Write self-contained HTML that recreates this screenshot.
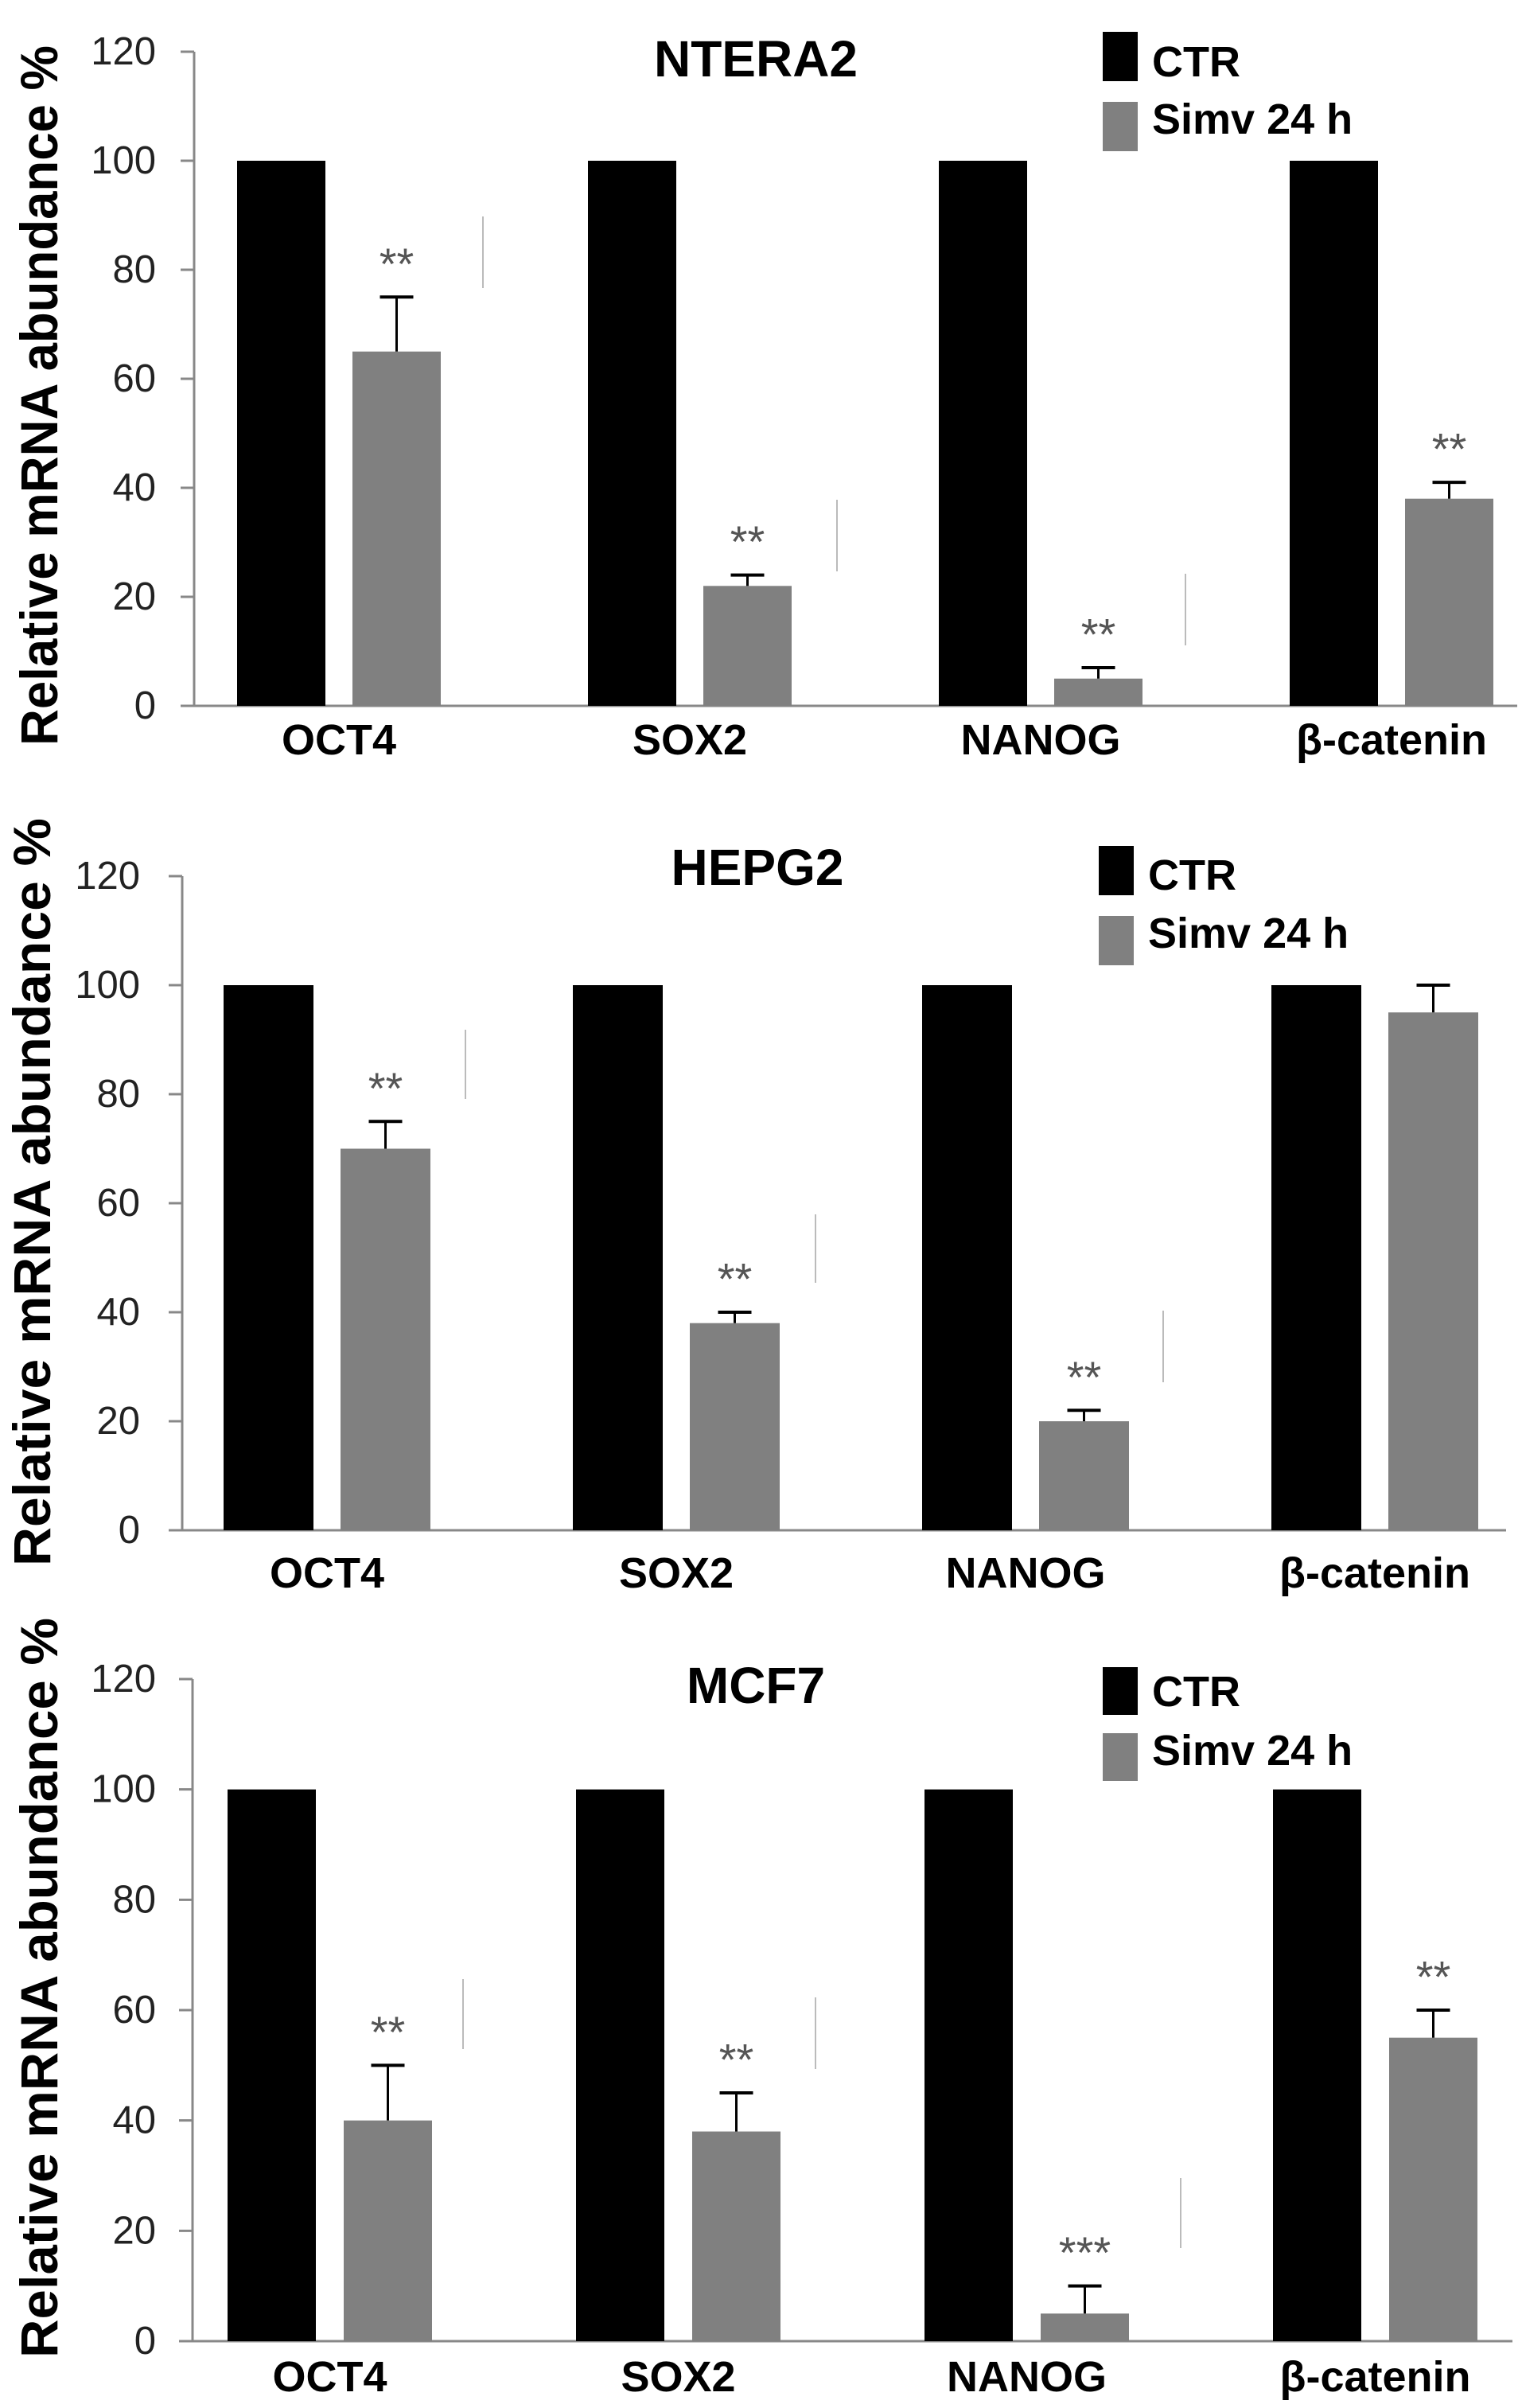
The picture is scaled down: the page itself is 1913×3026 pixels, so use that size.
<!DOCTYPE html>
<html><head><meta charset="utf-8">
<style>
html,body{margin:0;padding:0;background:#fff;}
svg{display:block;}
text{font-family:"Liberation Sans",Arial,sans-serif;}
</style></head>
<body>
<svg id="fig" width="1913" height="3026" viewBox="0 0 1913 3026" xmlns="http://www.w3.org/2000/svg"></svg>
<script>
const categories = ["OCT4", "SOX2", "NANOG", "β-catenin"];
const yTicks = [0, 20, 40, 60, 80, 100, 120];
const seriesNames = ["CTR", "Simv 24 h"];
const panelTitles = ["NTERA2", "HEPG2", "MCF7"];

const ntera2Ctr = [100, 100, 100, 100];
const ntera2Simv = [65, 22, 5, 38];
const ntera2Err = [10, 2, 2, 3];
const ntera2Stars = ["**", "**", "**", "**"];

const hepg2Ctr = [100, 100, 100, 100];
const hepg2Simv = [70, 38, 20, 95];
const hepg2Err = [5, 2, 2, 5];
const hepg2Stars = ["**", "**", "**", ""];

const mcf7Ctr = [100, 100, 100, 100];
const mcf7Simv = [40, 38, 5, 55];
const mcf7Err = [10, 7, 5, 5];
const mcf7Stars = ["**", "**", "***", "**"];

const svg = document.getElementById('fig');
const NS = "http://www.w3.org/2000/svg";
function mk(tag, attrs, parent){
  const e = document.createElementNS(NS, tag);
  for (const k in attrs) e.setAttribute(k, attrs[k]);
  (parent||svg).appendChild(e);
  return e;
}

const layouts = [
  {axX:244, y0:887, y120:65, x0:298, grp:441, bw:111, gap:34, axEnd:1907, tickR:196, yTitleX:49, yTitleC:497, yTitleL:880, titleX:950, titleY:74, legX:1386, legY1:40, legY2:128, legH:62, legT1:78, legT2:150, catY:930, lineX:[607,1052,1490], lineY:[[272,362],[628,718],[721,811]]},
  {axX:229, y0:1923, y120:1101, x0:281, grp:439, bw:113, gap:34, axEnd:1893, tickR:176, yTitleX:40, yTitleC:1498, yTitleL:940, titleX:952, titleY:1090, legX:1381, legY1:1063, legY2:1151, legH:62, legT1:1100, legT2:1173, catY:1977, lineX:[585,1025,1462], lineY:[[1294,1381],[1526,1612],[1647,1737]]},
  {axX:242, y0:2942, y120:2110, x0:286, grp:438, bw:111, gap:35, axEnd:1901, tickR:196, yTitleX:49, yTitleC:2498, yTitleL:930, titleX:950, titleY:2118, legX:1386, legY1:2095, legY2:2178, legH:60, legT1:2126, legT2:2200, catY:2987, lineX:[582,1025,1484], lineY:[[2487,2575],[2510,2600],[2737,2825]]}
];
const panelCtr = [ntera2Ctr, hepg2Ctr, mcf7Ctr];
const panelSimv = [ntera2Simv, hepg2Simv, mcf7Simv];
const panelErr = [ntera2Err, hepg2Err, mcf7Err];
const panelStars = [ntera2Stars, hepg2Stars, mcf7Stars];

layouts.forEach((L, p) => {
  const g = mk('g', {});
  
  
  const yS = v => L.y0 - (v / 120) * (L.y0 - L.y120);

  const ax = mk('line', {x1:L.axX, y1:L.y120, x2:L.axX, y2:L.y0, stroke:'#888', 'stroke-width':3}, g);
  
  
  yTicks.forEach(t => {
    const tk = mk('line', {x1:L.axX-17, y1:yS(t), x2:L.axX, y2:yS(t), stroke:'#888', 'stroke-width':3}, g);
    
    
    const tl = mk('text', {x:L.tickR, y:yS(t), 'text-anchor':'end', 'dominant-baseline':'central', 'font-size':49, fill:'#222'}, g);
    tl.textContent = t;
    
    
  });
  const xa = mk('line', {x1:L.axX, y1:L.y0, x2:L.axEnd, y2:L.y0, stroke:'#888', 'stroke-width':3}, g);
  
  

  const yt = mk('text', {x:0, y:0, transform:`translate(${L.yTitleX},${L.yTitleC}) rotate(-90)`, 'text-anchor':'middle', 'dominant-baseline':'central', 'font-size':66, 'font-weight':'bold', fill:'#000', textLength:L.yTitleL, lengthAdjust:'spacingAndGlyphs'}, g);
  yt.textContent = 'Relative mRNA abundance %';
  
  

  const ti = mk('text', {x:L.titleX, y:L.titleY, 'text-anchor':'middle', 'dominant-baseline':'central', 'font-size':64, 'font-weight':'bold', fill:'#000'}, g);
  ti.textContent = panelTitles[p];
  
  

  [[L.legY1, '#000', seriesNames[0], L.legT1], [L.legY2, '#808080', seriesNames[1], L.legT2]].forEach((it, i) => {
    const r = mk('rect', {x:L.legX, y:it[0], width:44, height:L.legH, fill:it[1]}, g);
    
    
    const t = mk('text', {x:L.legX+62, y:it[3], 'dominant-baseline':'central', 'font-size':54, 'font-weight':'bold', fill:'#000'}, g);
    t.textContent = it[2];
    
    
  });

  categories.forEach((c, i) => {
    const gx = L.x0 + i * L.grp;
    const ctr = panelCtr[p][i], sv = panelSimv[p][i], er = panelErr[p][i];
    const b1 = mk('rect', {x:gx, y:yS(ctr), width:L.bw, height:L.y0 - yS(ctr), fill:'#000'}, g);
    
    
    const sx = gx + L.bw + L.gap;
    const b2 = mk('rect', {x:sx, y:yS(sv), width:L.bw, height:L.y0 - yS(sv), fill:'#808080'}, g);
    
    
    const cx = sx + L.bw / 2;
    const e1 = mk('line', {x1:cx, y1:yS(sv), x2:cx, y2:yS(sv+er), stroke:'#000', 'stroke-width':3}, g);
    
    
    const e2 = mk('line', {x1:cx-21, y1:yS(sv+er), x2:cx+21, y2:yS(sv+er), stroke:'#000', 'stroke-width':4}, g);
    
    
    const st = panelStars[p][i];
    if (st) {
      const s = mk('text', {x:cx, y:yS(sv+er) - 42, 'text-anchor':'middle', 'dominant-baseline':'central', 'font-size':56, fill:'#555'}, g);
      s.textContent = st;
      
      
    }
    const cl = mk('text', {x:gx + L.bw + L.gap/2, y:L.catY, 'text-anchor':'middle', 'dominant-baseline':'central', 'font-size':54, 'font-weight':'bold', fill:'#000'}, g);
    cl.textContent = c;
    
    
  });

  L.lineX.forEach((lx, j) => {
    const fl = mk('line', {x1:lx, y1:L.lineY[j][0], x2:lx, y2:L.lineY[j][1], stroke:'#bbb', 'stroke-width':2}, g);
    
    
  });
});
</script>
</body></html>
